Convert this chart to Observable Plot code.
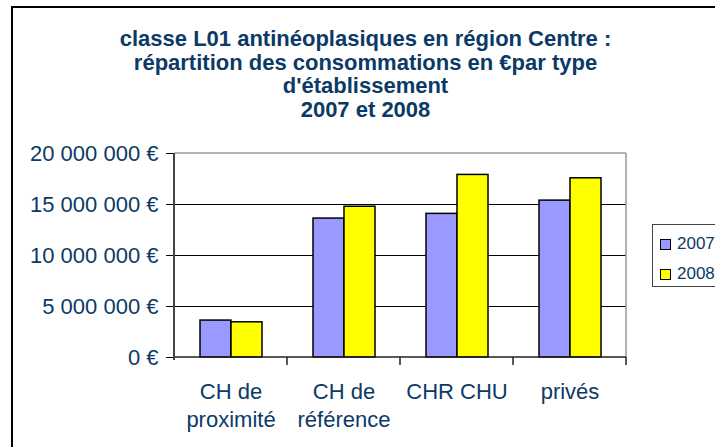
<!DOCTYPE html>
<html>
<head>
<meta charset="utf-8">
<script src="https://cdn.jsdelivr.net/npm/d3@7"></script>
<script src="https://cdn.jsdelivr.net/npm/@observablehq/plot@0.6"></script>
<style>
  html, body { margin: 0; padding: 0; background: #fff; overflow: hidden; }
  #chart { position: relative; width: 715px; height: 447px; overflow: hidden; font-family: "Liberation Sans", Arial, sans-serif; }
  #border { position: absolute; left: 11px; top: 6px; width: 800px; height: 600px; border: 2px solid #000; box-sizing: border-box; }
  #title { position: absolute; left: 0; top: 27px; width: 731px; text-align: center; font-weight: bold; font-size: 22px; line-height: 23.5px; color: #0b3a66; }
  #plot { position: absolute; left: 0; top: 140px; }
  #legend { position: absolute; left: 652px; top: 224px; width: 120px; height: 63px; border: 1px solid #444; box-sizing: border-box; background: #fff; font-size: 17px; color: #0b3a66; }
  .row { position: absolute; left: 7px; display: flex; align-items: center; }
  .sw { width: 9px; height: 9px; border: 1px solid #000; margin-right: 6px; }
</style>
</head>
<body>
<div id="chart">
  <div id="border"></div>
  <div id="title"></div>
  <div id="plot"></div>
  <div id="legend"></div>
</div>
<script>
const titleLines = [
  "classe L01 antinéoplasiques en région Centre :",
  "répartition des consommations en €par type",
  "d'établissement",
  "2007 et 2008"
];
const categories = ["CH de proximité", "CH de référence", "CHR CHU", "privés"];
const categoryLabels = ["CH de\nproximité", "CH de\nréférence", "CHR CHU", "privés"];
const years = ["2007", "2008"];
const values2007 = [3620000, 13620000, 14080000, 15380000];
const values2008 = [3450000, 14780000, 17900000, 17570000];
const yTicks = [0, 5000000, 10000000, 15000000, 20000000];
const colors = ["#9999FF", "#FFFF00"];

document.getElementById("title").innerHTML = titleLines.map(t => `<div>${t}</div>`).join("");

const data = [];
categories.forEach((c, i) => {
  data.push({cat: c, year: years[0], value: values2007[i]});
  data.push({cat: c, year: years[1], value: values2008[i]});
});

const locale = d3.formatLocale({decimal: ",", thousands: " ", grouping: [3], currency: ["", " €"]});
const fmt = locale.format("$,");
const labelOf = new Map(categories.map((c, i) => [c, categoryLabels[i]]));

const plot = Plot.plot({
  width: 715,
  height: 307,
  marginTop: 13,
  marginBottom: 90,
  marginLeft: 174,
  marginRight: 89,
  style: {fontFamily: "Liberation Sans, Arial, sans-serif", fontSize: "22px", background: "transparent", overflow: "visible"},
  fx: {domain: categories, padding: 0, label: null},
  x: {domain: years, paddingInner: 0, paddingOuter: 0.77, axis: null},
  y: {domain: [0, 20000000], label: null},
  color: {domain: years, range: colors},
  marks: [
    Plot.gridY({ticks: yTicks.slice(1, -1), stroke: "#000", strokeOpacity: 1, strokeWidth: 1}),
    Plot.barY(data, {fx: "cat", x: "year", y: "value", fill: "year", stroke: "#000", strokeWidth: 1.5}),
    Plot.axisY({ticks: yTicks, tickFormat: fmt, tickSize: 8, tickPadding: 8, stroke: "#000", fill: "#0b3a66", label: null, fontSize: 22}),
    Plot.axisFx({anchor: "bottom", tickSize: 0, tickPadding: 22, tickFormat: d => labelOf.get(d), lineHeight: 1.25, fill: "#0b3a66", label: null, fontSize: 22})
  ]
});
document.getElementById("plot").appendChild(plot);

// plot-area frame, axis lines and category separator ticks, from Plot's own scales
const sy = plot.scale("y");
const sfx = plot.scale("fx");
const y0 = sy.apply(0), yTop = sy.apply(20000000);
const xL = sfx.range[0], xR = sfx.range[1];
const svg = d3.select(plot.tagName.toLowerCase() === "svg" ? plot : plot.querySelector("svg"));
const g = svg.append("g");
g.append("line").attr("x1", xL).attr("x2", xR).attr("y1", yTop).attr("y2", yTop).attr("stroke", "#999").attr("stroke-width", 1.5);
g.append("line").attr("x1", xR).attr("x2", xR).attr("y1", yTop).attr("y2", y0).attr("stroke", "#999").attr("stroke-width", 1.5);
g.append("line").attr("x1", xL).attr("x2", xR).attr("y1", y0).attr("y2", y0).attr("stroke", "#222").attr("stroke-width", 1.5);
g.append("line").attr("x1", xL).attr("x2", xL).attr("y1", yTop).attr("y2", y0 + 3).attr("stroke", "#444").attr("stroke-width", 2);
const bounds = categories.map(c => sfx.apply(c)).concat([xR]);
bounds.slice(1).forEach(b => {
  g.append("line").attr("x1", b).attr("x2", b).attr("y1", y0).attr("y2", y0 + 8).attr("stroke", "#222").attr("stroke-width", 1.5);
});

// legend
const legend = document.getElementById("legend");
years.forEach((yr, i) => {
  const row = document.createElement("div");
  row.className = "row";
  row.style.top = (9 + i * 30) + "px";
  row.innerHTML = `<span class="sw" style="background:${colors[i]}"></span><span>${yr}</span>`;
  legend.appendChild(row);
});
</script>
</body>
</html>
